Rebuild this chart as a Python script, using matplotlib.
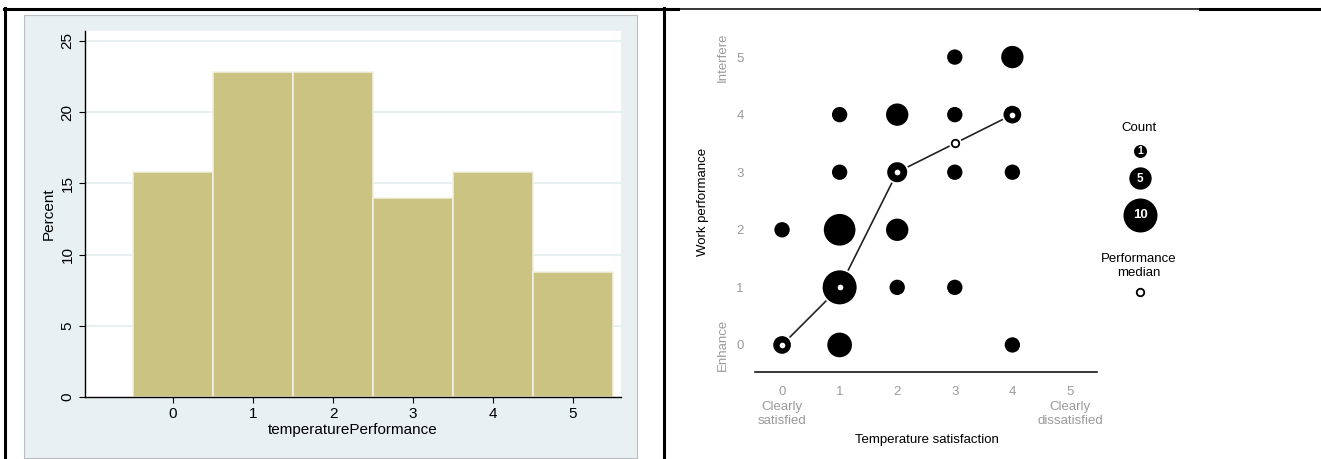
import matplotlib
matplotlib.use("Agg")
import matplotlib.pyplot as plt
from matplotlib.patches import Rectangle
from matplotlib.transforms import blended_transform_factory

plt.rcParams['font.family'] = ['Liberation Sans', 'DejaVu Sans']

W, H = 1321, 459

# left: histogram of temperaturePerformance (percent)
perf_levels = [0, 1, 2, 3, 4, 5]
perf_percent = [15.8, 22.8, 22.8, 14.0, 15.8, 8.8]

# right: count bubbles, temperature satisfaction vs work performance
dot_x = [0, 0, 1, 1, 1, 1, 1, 2, 2, 2, 2, 3, 3, 3, 3, 4, 4, 4, 4]
dot_y = [0, 2, 0, 1, 2, 3, 4, 1, 2, 3, 4, 1, 3, 4, 5, 0, 3, 4, 5]
dot_n = [3, 2, 6, 10, 9, 2, 2, 2, 5, 4, 5, 2, 2, 2, 2, 2, 2, 3, 5]
median_x = [0, 1, 2, 3, 4]
median_y = [0, 1, 3, 3.5, 4]
legend_counts = [1, 5, 10]
sat_ticks = [0, 1, 2, 3, 4, 5]
sat_labels = ['0\nClearly\nsatisfied', '1', '2', '3', '4', '5\nClearly\ndissatisfied']
perf_ticks = [0, 1, 2, 3, 4, 5]

GRAY = '#9a9a9a'


def box(x0, y0, x1, y1):
    return [x0 / W, 1 - y1 / H, (x1 - x0) / W, (y1 - y0) / H]


def area(n, pad=0.0):
    d = 10.7 + 2.33 * n + pad  # diameter in px
    return (d * 0.72) ** 2


fig = plt.figure(figsize=(W / 100, H / 100), dpi=100)

# page / table frame
bg = fig.add_axes([0, 0, 1, 1])
bg.set_xlim(0, W)
bg.set_ylim(H, 0)
bg.axis('off')
bg.add_patch(Rectangle((24, 15), 613, 443, facecolor='#e8f0f2',
                       edgecolor='#b8bec1', lw=0.8))
bg.plot([5, 5], [8, H], color='black', lw=2.2)
bg.plot([664, 664], [8, H], color='black', lw=2.2)
bg.plot([4, 678], [9, 9], color='black', lw=2.2)
bg.plot([678, 1200], [8.5, 8.5], color='black', lw=1.1)
bg.plot([1200, W], [9, 9], color='black', lw=2.2)

# ---- left chart
ax1 = fig.add_axes(box(85, 31, 621, 397))
ax1.set_facecolor('white')
ax1.bar(perf_levels, perf_percent, width=1.0, color='#cbc381',
        edgecolor='#f3f1e2', linewidth=1.1, zorder=2)
ax1.set_xlim(-1.1, 5.6)
ax1.set_ylim(0, 25.7)
ax1.set_yticks([0, 5, 10, 15, 20, 25])
ax1.set_xticks(perf_levels)
for v in [5, 10, 15, 20, 25]:
    ax1.axhline(v, color='#e3ecef', lw=1.2, zorder=1)
for s in ['top', 'right']:
    ax1.spines[s].set_visible(False)
for s in ['left', 'bottom']:
    ax1.spines[s].set_linewidth(1.0)
ax1.tick_params(axis='both', length=4.5, width=0.8, labelsize=11, pad=3)
ax1.tick_params(axis='y', labelrotation=90)
for lab in ax1.get_yticklabels():
    lab.set_va('center')
ax1.text(0.5, -0.09, 'temperaturePerformance', transform=ax1.transAxes,
         ha='center', va='center', fontsize=11)
ax1.text(-0.067, 0.5, 'Percent', transform=ax1.transAxes, rotation=90,
         ha='center', va='center', fontsize=11)

# ---- right chart
ax2 = fig.add_axes(box(755, 30, 1097, 372))
ax2.set_xlim(-0.47, 5.47)
ax2.set_ylim(-0.47, 5.47)
ax2.plot(median_x, median_y, color='#222222', lw=1.2, zorder=1)
ax2.scatter(dot_x, dot_y, s=[area(n, 3.5) for n in dot_n], color='white',
            linewidths=0, zorder=2)
ax2.scatter(median_x, median_y, s=(13 * 0.72) ** 2, color='white',
            linewidths=0, zorder=2)
ax2.scatter(dot_x, dot_y, s=[area(n) for n in dot_n], color='black',
            linewidths=0, zorder=3)
ax2.scatter(median_x, median_y, s=(7.5 * 0.72) ** 2, facecolor='white',
            edgecolor='black', linewidths=1.3, zorder=4)
for s in ['top', 'right', 'left']:
    ax2.spines[s].set_visible(False)
ax2.spines['bottom'].set_linewidth(1.1)
ax2.set_xticks(sat_ticks)
ax2.set_xticklabels(sat_labels, linespacing=1.3)
ax2.set_yticks(perf_ticks)
ax2.tick_params(axis='both', length=0, labelsize=9.5, labelcolor=GRAY)
ax2.tick_params(axis='x', pad=10)
ax2.tick_params(axis='y', pad=8)
tr = blended_transform_factory(ax2.transAxes, ax2.transData)
ax2.text(-0.094, 5, 'Interfere', transform=tr, rotation=90, ha='center',
         va='center', fontsize=9.5, color=GRAY)
ax2.text(-0.094, 0, 'Enhance', transform=tr, rotation=90, ha='center',
         va='center', fontsize=9.5, color=GRAY)
ax2.text(-0.152, 0.497, 'Work performance', transform=ax2.transAxes,
         rotation=90, ha='center', va='center', fontsize=9.5)
ax2.text(0.503, -0.2, 'Temperature satisfaction', transform=ax2.transAxes,
         ha='center', va='center', fontsize=9.5)

# ---- legend (pixel coordinates)
leg = fig.add_axes(box(1080, 100, 1200, 320))
leg.set_xlim(1080, 1200)
leg.set_ylim(320, 100)
leg.axis('off')
leg.text(1139, 128, 'Count', ha='center', va='center', fontsize=9.5)
leg_y = [151, 178, 215]
leg_fs = [7.5, 8.5, 9.5]
for n, y, fs in zip(legend_counts, leg_y, leg_fs):
    leg.scatter([1140], [y], s=area(n), color='black', linewidths=0)
    leg.text(1140, y + 0.5, str(n), color='white', ha='center', va='center',
             fontsize=fs, fontweight='bold')
leg.text(1139, 266, 'Performance\nmedian', ha='center', va='center',
         fontsize=9.5, linespacing=1.15)
leg.scatter([1140], [292], s=(7.5 * 0.72) ** 2, facecolor='white',
            edgecolor='black', linewidths=1.3)

fig.savefig('out.png', dpi=100)
